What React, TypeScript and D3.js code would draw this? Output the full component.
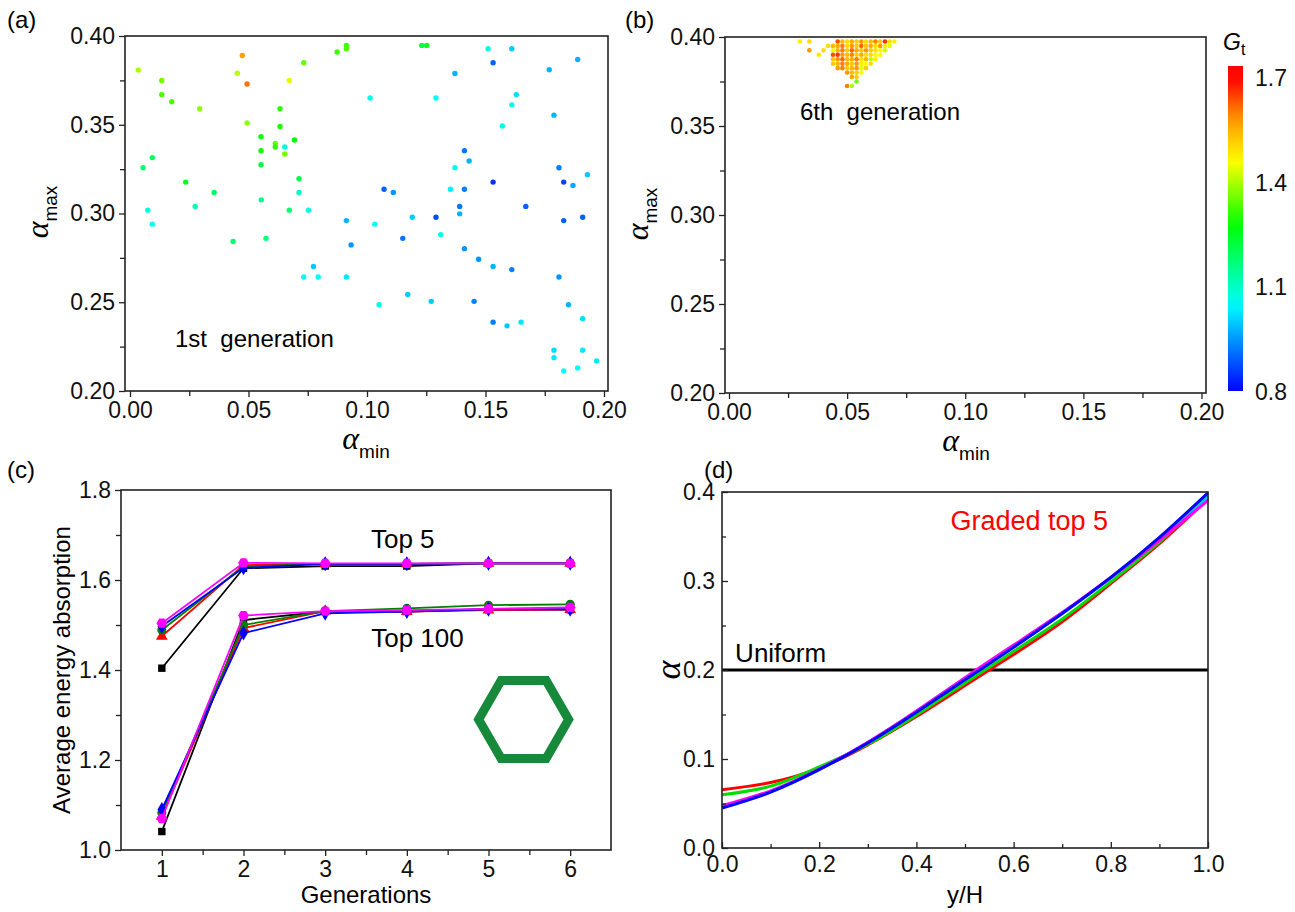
import React, { useEffect, useRef } from "react"
import * as d3 from "d3"

const SANS = "'Liberation Sans', Arial, sans-serif"
const SERIF = "'Liberation Serif', 'Times New Roman', serif"

// (a) 1st generation: [alpha_min, alpha_max, Gt]
const gen1: [number, number, number][] = [
  [0.0035, 0.3808, 1.4], [0.0134, 0.375, 1.36], [0.0134, 0.367, 1.33], [0.0176, 0.363, 1.33],
  [0.0294, 0.359, 1.38], [0.0474, 0.389, 1.57], [0.0453, 0.379, 1.41], [0.0494, 0.373, 1.61],
  [0.0494, 0.351, 1.38], [0.0672, 0.375, 1.44], [0.0733, 0.385, 1.35], [0.0874, 0.391, 1.32],
  [0.0913, 0.3947, 1.32], [0.0913, 0.3928, 1.33], [0.0633, 0.359, 1.31], [0.0633, 0.349, 1.3],
  [0.0553, 0.3433, 1.29], [0.0613, 0.3394, 1.35], [0.0613, 0.3375, 1.31], [0.0694, 0.3414, 1.27],
  [0.0653, 0.3375, 1.08], [0.0653, 0.3335, 1.36], [0.0553, 0.3354, 1.29], [0.0553, 0.3275, 1.22],
  [0.1013, 0.3651, 1.07], [0.0094, 0.3315, 1.2], [0.0055, 0.3258, 1.18], [0.0235, 0.3177, 1.25],
  [0.0355, 0.3119, 1.2], [0.0554, 0.3077, 1.15], [0.0713, 0.3196, 1.21], [0.0713, 0.3119, 1.1],
  [0.0075, 0.3019, 1.08], [0.0094, 0.294, 1.06], [0.0275, 0.304, 1.12], [0.0672, 0.3019, 1.18],
  [0.0753, 0.3019, 1.07], [0.0435, 0.2842, 1.18], [0.0574, 0.286, 1.17], [0.0913, 0.296, 0.98],
  [0.1033, 0.294, 1.05], [0.0933, 0.2823, 0.95], [0.0774, 0.2702, 1.0], [0.0733, 0.2642, 1.05],
  [0.0794, 0.2642, 1.05], [0.0913, 0.2642, 1.03], [0.1051, 0.2486, 1.07],
  [0.1231, 0.3947, 1.22], [0.1252, 0.3947, 1.25], [0.1511, 0.3928, 1.08], [0.1611, 0.3928, 1.0],
  [0.1532, 0.3849, 0.9], [0.1889, 0.3868, 0.98], [0.1371, 0.3789, 0.98], [0.1769, 0.381, 0.98],
  [0.1291, 0.3651, 1.05], [0.163, 0.367, 1.02], [0.1611, 0.3612, 1.07], [0.1789, 0.3554, 0.98],
  [0.1571, 0.3493, 1.07], [0.1411, 0.3354, 0.92], [0.1431, 0.3296, 0.98], [0.1371, 0.3258, 1.07],
  [0.181, 0.3258, 0.93], [0.1532, 0.3177, 0.85], [0.183, 0.3177, 0.87], [0.1869, 0.3158, 0.97],
  [0.193, 0.3219, 1.0], [0.1072, 0.3137, 0.9], [0.1111, 0.3119, 0.95], [0.1352, 0.3137, 1.04],
  [0.1411, 0.3137, 0.93], [0.1391, 0.304, 0.92], [0.167, 0.304, 0.9],
  [0.1191, 0.2979, 1.0], [0.1291, 0.2979, 0.88], [0.1391, 0.2998, 0.98], [0.183, 0.296, 0.9],
  [0.191, 0.2979, 0.9], [0.1151, 0.286, 0.92], [0.1311, 0.2881, 1.07], [0.1411, 0.2802, 0.95],
  [0.1471, 0.2742, 0.95], [0.1532, 0.2702, 0.98], [0.1611, 0.2684, 0.93], [0.181, 0.2642, 0.95],
  [0.1172, 0.2544, 1.0], [0.1271, 0.2505, 1.0], [0.1452, 0.2505, 0.93], [0.185, 0.2486, 0.98],
  [0.191, 0.2407, 1.02], [0.1532, 0.2388, 0.93], [0.1591, 0.2367, 1.0], [0.165, 0.2388, 1.03],
  [0.1789, 0.223, 1.02], [0.191, 0.223, 1.03], [0.1789, 0.2188, 1.03], [0.1969, 0.2169, 1.03],
  [0.1889, 0.213, 1.05], [0.183, 0.2113, 1.05],
]

// (b) 6th generation, one row per alpha_max: [alpha_max, [[alpha_min, Gt], ...]]
const gen6Rows: [number, [number, number][]][] = [
  [0.3975, [[0.03, 1.48], [0.034, 1.5], [0.046, 1.64], [0.048, 1.54], [0.05, 1.5], [0.052, 1.56], [0.054, 1.52],
    [0.056, 1.58], [0.058, 1.5], [0.06, 1.54], [0.062, 1.6], [0.064, 1.52], [0.066, 1.66], [0.068, 1.5], [0.07, 1.48]]],
  [0.395, [[0.042, 1.5], [0.044, 1.54], [0.046, 1.56], [0.048, 1.6], [0.05, 1.5], [0.052, 1.58], [0.054, 1.52],
    [0.056, 1.62], [0.058, 1.53], [0.06, 1.56], [0.062, 1.5], [0.064, 1.58], [0.066, 1.48], [0.068, 1.44]]],
  [0.3925, [[0.034, 1.58], [0.04, 1.5], [0.044, 1.47], [0.046, 1.55], [0.048, 1.6], [0.05, 1.52], [0.052, 1.62],
    [0.054, 1.56], [0.056, 1.53], [0.058, 1.58], [0.06, 1.52], [0.062, 1.5], [0.064, 1.47], [0.066, 1.43]]],
  [0.39, [[0.038, 1.49], [0.044, 1.64], [0.046, 1.66], [0.048, 1.58], [0.05, 1.54], [0.052, 1.6], [0.054, 1.52],
    [0.056, 1.56], [0.058, 1.5], [0.06, 1.5], [0.062, 1.47], [0.064, 1.46]]],
  [0.3875, [[0.044, 1.53], [0.046, 1.58], [0.048, 1.62], [0.05, 1.54], [0.052, 1.56], [0.054, 1.6], [0.056, 1.5],
    [0.058, 1.55], [0.06, 1.41], [0.062, 1.48]]],
  [0.385, [[0.044, 1.52], [0.046, 1.55], [0.048, 1.6], [0.05, 1.56], [0.052, 1.52], [0.054, 1.58], [0.056, 1.48],
    [0.058, 1.46], [0.06, 1.5]]],
  [0.3825, [[0.046, 1.57], [0.048, 1.6], [0.05, 1.52], [0.052, 1.55], [0.054, 1.58], [0.056, 1.44], [0.058, 1.52]]],
  [0.38, [[0.05, 1.58], [0.052, 1.54], [0.054, 1.52], [0.056, 1.45]]],
  [0.3775, [[0.052, 1.57], [0.054, 1.52]]],
  [0.375, [[0.054, 1.36]]],
  [0.3725, [[0.05, 1.6], [0.052, 1.4]]],
]
const gen6 = gen6Rows.flatMap(([amax, row]) => row.map(([amin, g]) => [amin, amax, g] as [number, number, number]))

// colour map for Gt
const gtStops = [0.8, 0.93, 1.05, 1.28, 1.46, 1.58, 1.7]
const gtColors = ["#0000ff", "#0080ff", "#00ffff", "#00ff00", "#ffff00", "#ff9900", "#ff0000"]
const gtTicks = [0.8, 1.1, 1.4, 1.7]

const alphaTicks = [0, 0.05, 0.1, 0.15, 0.2]
const alphaMinor = [0.025, 0.075, 0.125, 0.175]
const alphaMaxTicks = [0.2, 0.25, 0.3, 0.35, 0.4]
const alphaMaxMinor = [0.225, 0.275, 0.325, 0.375]

// (c) average energy absorption per generation
const generations = [1, 2, 3, 4, 5, 6]
const top5Black = [1.404, 1.626, 1.631, 1.631, 1.637, 1.637]
const top5Red = [1.475, 1.633, 1.636, 1.636, 1.637, 1.637]
const top5Green = [1.489, 1.63, 1.636, 1.636, 1.637, 1.637]
const top5Blue = [1.497, 1.627, 1.636, 1.636, 1.637, 1.637]
const top5Magenta = [1.504, 1.638, 1.637, 1.637, 1.637, 1.637]
const top100Black = [1.041, 1.511, 1.53, 1.53, 1.535, 1.534]
const top100Red = [1.075, 1.493, 1.531, 1.53, 1.533, 1.534]
const top100Green = [1.083, 1.5, 1.531, 1.537, 1.544, 1.546]
const top100Blue = [1.09, 1.482, 1.526, 1.53, 1.535, 1.535]
const top100Magenta = [1.07, 1.521, 1.531, 1.533, 1.536, 1.539]
const genMinor = [1.5, 2.5, 3.5, 4.5, 5.5]
const gTicks = [1.0, 1.2, 1.4, 1.6, 1.8]
const gMinor = [1.1, 1.3, 1.5, 1.7]

// (d) alpha profile along y/H
const yH = [0, 0.1, 0.2, 0.3, 0.4, 0.5, 0.6, 0.7, 0.8, 0.9, 1.0]
const gradedRed = [0.0654, 0.0735, 0.0897, 0.1159, 0.1477, 0.1825, 0.2175, 0.2542, 0.2972, 0.342, 0.3925]
const gradedGreen = [0.0598, 0.0695, 0.0912, 0.1166, 0.1495, 0.1855, 0.221, 0.2572, 0.2991, 0.3439, 0.3955]
const gradedCyan = [0.046, 0.0632, 0.0885, 0.1185, 0.1535, 0.1905, 0.227, 0.2635, 0.3035, 0.3475, 0.3945]
const gradedMagenta = [0.0475, 0.0642, 0.0886, 0.1189, 0.154, 0.1914, 0.228, 0.2645, 0.304, 0.3458, 0.3907]
const gradedBlue = [0.0449, 0.0628, 0.088, 0.118, 0.1525, 0.189, 0.2255, 0.2635, 0.304, 0.349, 0.399]
const uniformYH = [0, 1]
const uniformAlpha = [0.2, 0.2]
const yHTicks = [0, 0.2, 0.4, 0.6, 0.8, 1.0]
const yHMinor = [0.1, 0.3, 0.5, 0.7, 0.9]
const aTicks = [0, 0.1, 0.2, 0.3, 0.4]
const aMinor = [0.05, 0.15, 0.25, 0.35]

// hexagon symbol (pointy left/right)
const symbolHexagon = {
  draw(ctx: any, size: number) {
    const r = Math.sqrt(size / (1.5 * Math.sqrt(3)))
    for (let i = 0; i < 6; i++) {
      const a = (Math.PI / 3) * i
      if (i === 0) ctx.moveTo(r * Math.cos(a), r * Math.sin(a))
      else ctx.lineTo(r * Math.cos(a), r * Math.sin(a))
    }
    ctx.closePath()
  },
}

const f2 = d3.format(".2f")
const f1 = d3.format(".1f")

export default function App() {
  const svgRef = useRef<SVGSVGElement>(null)

  const xA = d3.scaleLinear().domain([0, 0.2]).range([130, 604])
  const yA = d3.scaleLinear().domain([0.2, 0.4]).range([391, 36])
  const xB = d3.scaleLinear().domain([0, 0.2]).range([729, 1201.5])
  const yB = d3.scaleLinear().domain([0.2, 0.4]).range([393, 37])
  const yBar = d3.scaleLinear().domain([0.8, 1.7]).range([392, 78])
  const xC = d3.scaleLinear().domain([0.5, 6.5]).range([121, 611])
  const yC = d3.scaleLinear().domain([1.0, 1.8]).range([850, 490])
  const xD = d3.scaleLinear().domain([0, 1]).range([722, 1208])
  const yD = d3.scaleLinear().domain([0, 0.4]).range([848, 492])
  const gtColor = d3.scaleLinear<string>().domain(gtStops).range(gtColors).clamp(true)

  const barTop = 66
  const barBottom = 391

  const seriesC = [
    { v5: top5Black, v100: top100Black, color: "#000000", sym: d3.symbolSquare, size: 55 },
    { v5: top5Red, v100: top100Red, color: "#ff0000", sym: d3.symbolTriangle, size: 60 },
    { v5: top5Green, v100: top100Green, color: "#008000", sym: d3.symbolCircle, size: 65 },
    { v5: top5Blue, v100: top100Blue, color: "#0000ff", sym: d3.symbolDiamond, size: 65 },
    { v5: top5Magenta, v100: top100Magenta, color: "#ff00ff", sym: symbolHexagon, size: 75 },
  ]
  const lineC = (vals: number[]) =>
    d3.line<number>().x((_, i) => xC(generations[i])).y((d) => yC(d))(vals) || ""

  const seriesD = [
    { vals: gradedRed, color: "#ff0000" },
    { vals: gradedGreen, color: "#00dd00" },
    { vals: gradedCyan, color: "#00ccff" },
    { vals: gradedMagenta, color: "#ff00ff" },
    { vals: gradedBlue, color: "#0000ff" },
  ]
  const lineD = (xs: number[], vals: number[]) =>
    d3.line<number>().x((_, i) => xD(xs[i])).y((d) => yD(d)).curve(d3.curveNatural)(vals) || ""

  useEffect(() => {
    const svg = d3.select(svgRef.current)
    const style = (g: any) => {
      g.select(".domain").remove()
      g.selectAll("line").attr("stroke", "#222").attr("stroke-width", 1.3)
      g.selectAll("text").attr("font-family", SANS).attr("font-size", 23).attr("fill", "#111")
    }
    const put = (cls: string, axis: any) => {
      const g = svg.select(cls)
      g.selectAll("*").remove()
      g.call(axis)
      style(g)
    }
    const none = () => ""
    // (a)
    put(".ax-a-x", d3.axisBottom(xA).tickValues(alphaTicks).tickFormat(f2 as any).tickSize(6).tickPadding(5))
    put(".ax-a-xm", d3.axisBottom(xA).tickValues(alphaMinor).tickFormat(none).tickSize(5))
    put(".ax-a-y", d3.axisLeft(yA).tickValues(alphaMaxTicks).tickFormat(f2 as any).tickSize(6).tickPadding(4))
    put(".ax-a-ym", d3.axisLeft(yA).tickValues(alphaMaxMinor).tickFormat(none).tickSize(5))
    // (b)
    put(".ax-b-x", d3.axisBottom(xB).tickValues(alphaTicks).tickFormat(f2 as any).tickSize(6).tickPadding(5))
    put(".ax-b-xm", d3.axisBottom(xB).tickValues(alphaMinor).tickFormat(none).tickSize(5))
    put(".ax-b-y", d3.axisLeft(yB).tickValues(alphaMaxTicks).tickFormat(f2 as any).tickSize(6).tickPadding(4))
    put(".ax-b-ym", d3.axisLeft(yB).tickValues(alphaMaxMinor).tickFormat(none).tickSize(5))
    put(".ax-bar", d3.axisRight(yBar).tickValues(gtTicks).tickFormat(f1 as any).tickSize(0).tickPadding(12))
    // (c)
    put(".ax-c-x", d3.axisBottom(xC).tickValues(generations).tickFormat(d3.format("d") as any).tickSize(6).tickPadding(5))
    put(".ax-c-xm", d3.axisBottom(xC).tickValues(genMinor).tickFormat(none).tickSize(5))
    put(".ax-c-y", d3.axisLeft(yC).tickValues(gTicks).tickFormat(f1 as any).tickSize(6).tickPadding(4))
    put(".ax-c-ym", d3.axisLeft(yC).tickValues(gMinor).tickFormat(none).tickSize(5))
    // (d) inward ticks
    put(".ax-d-x", d3.axisBottom(xD).tickValues(yHTicks).tickFormat(f1 as any).tickSize(-6).tickPadding(8))
    put(".ax-d-xm", d3.axisBottom(xD).tickValues(yHMinor).tickFormat(none).tickSize(-4))
    put(".ax-d-y", d3.axisLeft(yD).tickValues(aTicks).tickFormat(f1 as any).tickSize(-6).tickPadding(7))
    put(".ax-d-ym", d3.axisLeft(yD).tickValues(aMinor).tickFormat(none).tickSize(-4))
  }, [])

  const frame = (x0: number, x1: number, y0: number, y1: number) => (
    <rect x={x0} y={y0} width={x1 - x0} height={y1 - y0} fill="none" stroke="#222" strokeWidth={1.6} />
  )

  const hexCenter = [xC(5.43), yC(1.29)]
  const hexPath = d3.symbol().type(symbolHexagon as any).size(1.5 * Math.sqrt(3) * 45 * 45)() || ""

  return (
    <svg ref={svgRef} width={1295} height={912} style={{ position: "absolute", left: 0, top: 0, background: "#fff" }}
      fontFamily={SANS}>
      <defs>
        <linearGradient id="gtGrad" x1="0" y1="1" x2="0" y2="0">
          {d3.range(0, 21).map((i) => {
            const t = i / 20
            const v = yBar.invert(barBottom + (barTop - barBottom) * t)
            return <stop key={i} offset={t} stopColor={gtColor(v)} />
          })}
        </linearGradient>
      </defs>

      {/* ---------- (a) ---------- */}
      <text x={7} y={28} fontSize={24}>(a)</text>
      {gen1.map(([amin, amax, g], i) => (
        <circle key={i} cx={xA(amin)} cy={yA(amax)} r={2.7} fill={gtColor(g)} />
      ))}
      <text x={xA(0.019)} y={yA(0.225)} fontSize={24}>{"1st\u00a0 generation"}</text>
      {frame(125, 608, 36, 391)}
      <g className="ax-a-x" transform="translate(0,391)" />
      <g className="ax-a-xm" transform="translate(0,391)" />
      <g className="ax-a-y" transform="translate(125,0)" />
      <g className="ax-a-ym" transform="translate(125,0)" />
      <text x={366} y={449} textAnchor="middle">
        <tspan fontFamily={SERIF} fontStyle="italic" fontSize={32}>α</tspan>
        <tspan fontSize={19} dy={9}>min</tspan>
      </text>
      <text transform="translate(48,212) rotate(-90)" textAnchor="middle">
        <tspan fontFamily={SERIF} fontStyle="italic" fontSize={32}>α</tspan>
        <tspan fontSize={19} dy={9}>max</tspan>
      </text>

      {/* ---------- (b) ---------- */}
      <text x={625} y={28} fontSize={24}>(b)</text>
      {gen6.map(([amin, amax, g], i) => (
        <circle key={i} cx={xB(amin)} cy={yB(amax)} r={2.3} fill={gtColor(g)} />
      ))}
      <text x={xB(0.03)} y={yB(0.3534)} fontSize={24}>{"6th\u00a0 generation"}</text>
      {frame(725, 1206, 37, 393)}
      <g className="ax-b-x" transform="translate(0,393)" />
      <g className="ax-b-xm" transform="translate(0,393)" />
      <g className="ax-b-y" transform="translate(725,0)" />
      <g className="ax-b-ym" transform="translate(725,0)" />
      <text x={966} y={451} textAnchor="middle">
        <tspan fontFamily={SERIF} fontStyle="italic" fontSize={32}>α</tspan>
        <tspan fontSize={19} dy={9}>min</tspan>
      </text>
      <text transform="translate(648,214) rotate(-90)" textAnchor="middle">
        <tspan fontFamily={SERIF} fontStyle="italic" fontSize={32}>α</tspan>
        <tspan fontSize={19} dy={9}>max</tspan>
      </text>

      {/* colour bar */}
      <rect x={1228} y={barTop} width={15} height={barBottom - barTop} fill="url(#gtGrad)" />
      <g className="ax-bar" transform="translate(1243,0)" />
      <text x={1223} y={50}>
        <tspan fontStyle="italic" fontSize={23}>G</tspan>
        <tspan fontSize={16} dy={5}>t</tspan>
      </text>

      {/* ---------- (c) ---------- */}
      <text x={7} y={478} fontSize={24}>(c)</text>
      <path d={hexPath} transform={`translate(${hexCenter[0]},${hexCenter[1]})`} fill="none" stroke="#17893a" strokeWidth={9} />
      {seriesC.map((s, k) => (
        <g key={k}>
          <path d={lineC(s.v5)} fill="none" stroke={s.color} strokeWidth={1.8} />
          <path d={lineC(s.v100)} fill="none" stroke={s.color} strokeWidth={1.8} />
          {[...s.v5, ...s.v100].map((v, i) => (
            <path key={i} d={d3.symbol().type(s.sym as any).size(s.size)() || ""}
              transform={`translate(${xC(generations[i % 6])},${yC(v)})`} fill={s.color} />
          ))}
        </g>
      ))}
      <text x={xC(3.95)} y={yC(1.672)} fontSize={26} textAnchor="middle">Top 5</text>
      <text x={xC(4.13)} y={yC(1.452)} fontSize={26} textAnchor="middle">Top 100</text>
      {frame(121, 611, 490, 850)}
      <g className="ax-c-x" transform="translate(0,850)" />
      <g className="ax-c-xm" transform="translate(0,850)" />
      <g className="ax-c-y" transform="translate(121,0)" />
      <g className="ax-c-ym" transform="translate(121,0)" />
      <text x={366} y={903} fontSize={24} textAnchor="middle">Generations</text>
      <text transform="translate(70,670) rotate(-90)" fontSize={24} textAnchor="middle">Average energy absorption</text>

      {/* ---------- (d) ---------- */}
      <text x={704} y={478} fontSize={24}>(d)</text>
      <path d={lineD(uniformYH, uniformAlpha)} fill="none" stroke="#000" strokeWidth={3} />
      {seriesD.map((s, k) => (
        <path key={k} d={lineD(yH, s.vals)} fill="none" stroke={s.color} strokeWidth={3} />
      ))}
      <text x={xD(0.027)} y={yD(0.2093)} fontSize={26}>Uniform</text>
      <text x={xD(0.47)} y={yD(0.3574)} fontSize={27} fill="#ff0000">Graded top 5</text>
      {frame(722, 1208, 492, 848)}
      <g className="ax-d-x" transform="translate(0,848)" />
      <g className="ax-d-xm" transform="translate(0,848)" />
      <g className="ax-d-y" transform="translate(722,0)" />
      <g className="ax-d-ym" transform="translate(722,0)" />
      <text x={965} y={903} fontSize={24} textAnchor="middle">y/H</text>
      <text transform="translate(680,670) rotate(-90)" textAnchor="middle" fontFamily={SERIF} fontStyle="italic" fontSize={36}>α</text>
    </svg>
  )
}
